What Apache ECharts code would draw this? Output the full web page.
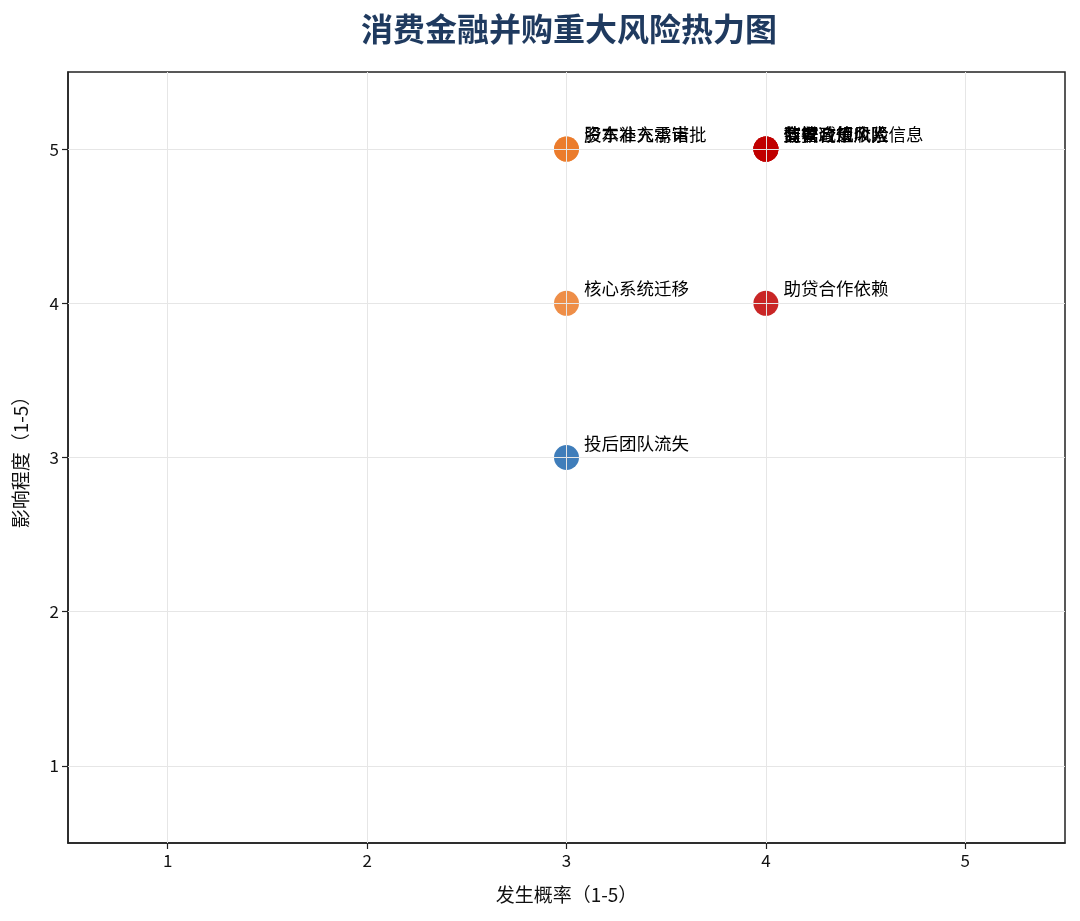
<!DOCTYPE html>
<html>
<head>
<meta charset="utf-8">
<script src="https://cdn.jsdelivr.net/npm/echarts@6/dist/echarts.min.js"></script>
<style>
  html, body { margin: 0; padding: 0; background: #fff; }
  #chart-panel { width: 1080px; height: 921px; }
</style>
</head>
<body>
<div id="chart-panel"></div>
<script>
// risk items: probability (x) and impact (y), both 1-5
const riskNames = [
  '资本补充承诺', '股东准入需审批', '核心系统迁移', '投后团队流失',
  '监管政策收紧', '催收合规风险', '商誉减值风险', '数据合规个人信息',
  '助贷合作依赖'
];
const probability = [3, 3, 3, 3, 4, 4, 4, 4, 4];
const impact      = [5, 5, 4, 3, 5, 5, 5, 5, 4];
const axisTicks = ['1', '2', '3', '4', '5'];

// colour by score = probability * impact
function scoreColor(s) {
  if (s >= 16) return '#C00000';
  if (s >= 12) return '#EB7A28';
  return '#1D66AE';
}

// category axes with boundaryGap give the 0.5 .. 5.5 span of the reference
const points = riskNames.map(function (name, i) {
  return {
    name: name,
    value: [axisTicks.indexOf(String(probability[i])), axisTicks.indexOf(String(impact[i]))],
    itemStyle: { color: scoreColor(probability[i] * impact[i]) }
  };
});

const font = '"Noto Sans CJK SC", "Noto Sans", sans-serif';

function catAxis(name, gap) {
  return {
    type: 'category', data: axisTicks, boundaryGap: true,
    name: name, nameLocation: 'middle', nameGap: gap,
    nameTextStyle: { fontSize: 19, color: '#111', fontFamily: font },
    axisLine: { show: true, lineStyle: { color: '#222', width: 1.5 } },
    axisTick: { show: true, alignWithLabel: true, length: 6, lineStyle: { color: '#222', width: 1.2 } },
    axisLabel: { fontSize: 17, color: '#111', margin: 9 },
    splitLine: { show: false }
  };
}

var myChart = echarts.init(document.getElementById('chart-panel'));
myChart.setOption({
  animation: false,
  textStyle: { fontFamily: font },
  title: {
    text: '消费金融并购重大风险热力图',
    left: 564,
    textAlign: 'center',
    top: 8,
    textStyle: { fontFamily: font, fontSize: 32, fontWeight: 'bold', color: '#1F3A5F' }
  },
  grid: {
    left: 68, right: 15, top: 72, bottom: 78,
    show: true, borderColor: '#222', borderWidth: 1.5, backgroundColor: 'transparent'
  },
  xAxis: catAxis('发生概率（1-5）', 42),
  yAxis: catAxis('影响程度（1-5）', 38),
  series: [
    {
      // grid lines at integer ticks
      type: 'scatter', data: [], silent: true,
      markLine: {
        silent: true, symbol: 'none', label: { show: false },
        lineStyle: { color: '#e6e6e6', width: 1, type: 'solid' },
        data: axisTicks.map(function (t, i) { return { xAxis: i }; })
          .concat(axisTicks.map(function (t, i) { return { yAxis: i }; }))
      }
    },
    {
      name: '风险',
      type: 'scatter',
      symbolSize: 25,
      itemStyle: { opacity: 0.85 },
      label: {
        show: true,
        position: [30, -2],
        align: 'left',
        verticalAlign: 'middle',
        formatter: '{b}',
        fontSize: 17.5,
        color: '#000',
        opacity: 1,
        fontFamily: font
      },
      labelLayout: { hideOverlap: false },
      data: points
    }
  ]
});
</script>
</body>
</html>
